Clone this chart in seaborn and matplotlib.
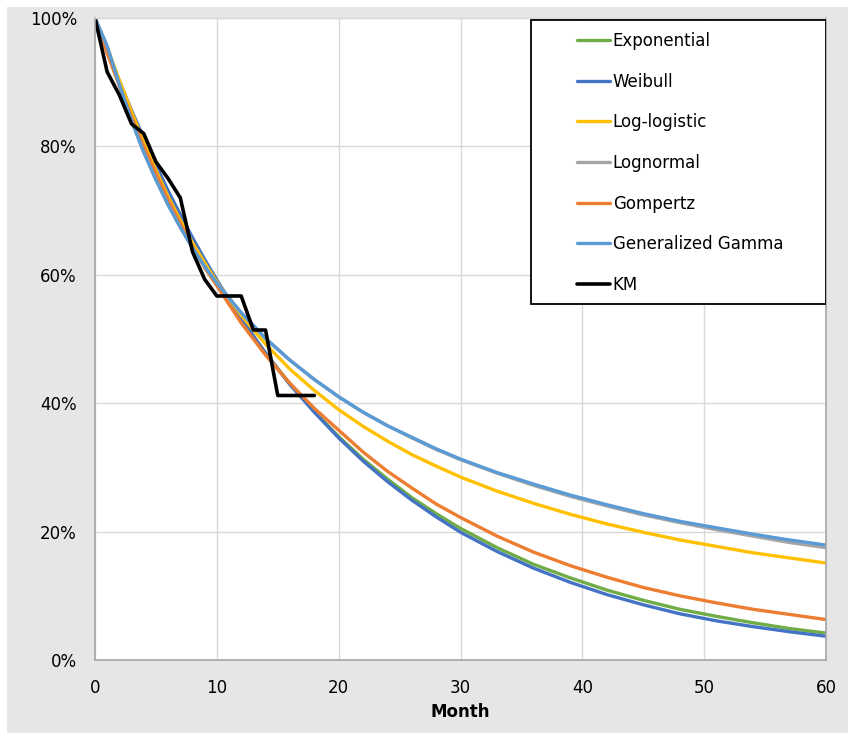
import pandas as pd
import matplotlib
matplotlib.use("Agg")
import matplotlib.pyplot as plt
from matplotlib.patches import Rectangle
from matplotlib.lines import Line2D
from matplotlib.ticker import PercentFormatter, MultipleLocator
import seaborn as sns

# Month grid for the fitted parametric survival curves
months = [0, 1, 2, 3, 4, 5, 6, 7, 8, 9, 10, 12, 14, 16, 18, 20, 22, 24, 26, 28, 30,
          33, 36, 39, 42, 45, 48, 51, 54, 57, 60]

# Survival probability (%) of each fitted model
exponential = [100, 94.9, 90.0, 85.4, 81.0, 76.8, 72.9, 69.1, 65.6, 62.2, 59.0, 53.1, 47.8, 43.0,
               38.7, 34.8, 31.3, 28.2, 25.3, 22.8, 20.5, 17.5, 14.9, 12.8, 10.9, 9.3, 7.9,
               6.8, 5.8, 4.9, 4.2]
weibull = [100, 95.0, 90.2, 85.6, 81.3, 77.1, 73.1, 69.4, 65.8, 62.4, 59.2, 53.2, 47.8, 42.9,
           38.6, 34.6, 31.0, 27.8, 24.9, 22.3, 19.9, 16.9, 14.3, 12.1, 10.2, 8.6, 7.2,
           6.1, 5.2, 4.4, 3.7]
log_logistic = [100, 95.4, 90.3, 85.4, 80.7, 76.3, 72.2, 68.5, 65.0, 61.9, 58.9, 53.7, 49.2, 45.3,
                42.0, 39.0, 36.4, 34.1, 32.0, 30.2, 28.5, 26.3, 24.4, 22.7, 21.2, 19.9, 18.7,
                17.7, 16.7, 15.9, 15.1]
lognormal = [100, 95.6, 89.6, 84.0, 79.1, 74.8, 70.9, 67.4, 64.2, 61.3, 58.7, 54.1, 50.1, 46.7,
             43.7, 41.0, 38.6, 36.5, 34.6, 32.8, 31.2, 29.1, 27.2, 25.5, 24.0, 22.6, 21.4,
             20.3, 19.3, 18.3, 17.5]
gompertz = [100, 94.5, 89.4, 84.6, 80.0, 75.8, 71.7, 68.0, 64.4, 61.1, 58.3, 52.5, 47.5, 43.1,
            39.2, 35.8, 32.4, 29.4, 26.8, 24.3, 22.2, 19.3, 16.8, 14.7, 12.9, 11.3, 10.0,
            8.9, 7.9, 7.1, 6.3]
gen_gamma = [100, 95.6, 89.6, 84.0, 79.1, 74.8, 70.9, 67.4, 64.2, 61.3, 58.7, 54.1, 50.1, 46.7,
             43.7, 41.0, 38.6, 36.5, 34.7, 32.9, 31.3, 29.2, 27.4, 25.7, 24.2, 22.8, 21.6,
             20.6, 19.6, 18.7, 17.9]

# Kaplan-Meier estimate (%)
km_months = [0, 1, 2, 3, 4, 5, 6, 7, 8, 9, 10, 12, 13, 14, 15, 18]
km_surv = [100, 91.6, 88.0, 83.5, 82.0, 77.6, 75.0, 72.0, 63.6, 59.3, 56.7, 56.7, 51.4, 51.4, 41.2, 41.2]

model_names = ["Exponential", "Weibull", "Log-logistic", "Lognormal", "Gompertz", "Generalized Gamma"]
model_values = [exponential, weibull, log_logistic, lognormal, gompertz, gen_gamma]
model_colors = ["#70AD47", "#4472C4", "#FFC000", "#A5A5A5", "#ED7D31", "#5B9BD5"]

x_ticks = [0, 10, 20, 30, 40, 50, 60]

frames = [pd.DataFrame({"Month": months, "Survival": vals, "Model": name})
          for name, vals in zip(model_names, model_values)]
models_df = pd.concat(frames, ignore_index=True)
km_df = pd.DataFrame({"Month": km_months, "Survival": km_surv})

sns.set_theme(style="whitegrid")
plt.rcParams["font.family"] = ["DejaVu Sans"]
plt.rcParams["text.color"] = "black"

W, H = 848, 734
fig = plt.figure(figsize=(W / 100, H / 100), dpi=100, facecolor="white")
# grey chart area
fig.patches.append(Rectangle((7 / W, 1 / H), (W - 7) / W, (H - 8) / H,
                             transform=fig.transFigure, facecolor="#E6E6E6",
                             edgecolor="none", zorder=-10))

ax = fig.add_axes([95 / W, 1 - 660 / H, (826 - 95) / W, (660 - 18) / H])
ax.set_facecolor("white")

sns.lineplot(data=models_df, x="Month", y="Survival", hue="Model", hue_order=model_names,
             palette=model_colors, linewidth=2.4, ax=ax, legend=False, sort=False)
sns.lineplot(data=km_df, x="Month", y="Survival", color="black", linewidth=2.6,
             ax=ax, legend=False, sort=False)

ax.set_xlim(0, 60)
ax.set_ylim(0, 100)
ax.set_xticks(x_ticks)
ax.yaxis.set_major_locator(MultipleLocator(20))
ax.yaxis.set_major_formatter(PercentFormatter(xmax=100, decimals=0))
ax.grid(True, color="#D9D9D9", linewidth=1.0)
ax.tick_params(axis="both", length=0, labelsize=12, colors="black", labelcolor="black")
ax.tick_params(axis="y", pad=13)
ax.tick_params(axis="x", pad=14)
ax.set_xlabel("Month", fontsize=12, fontweight="bold", labelpad=4, color="black")
ax.set_ylabel("")

for side in ["left", "bottom", "right"]:
    ax.spines[side].set_visible(True)
    ax.spines[side].set_color("#A6A6A6")
    ax.spines[side].set_linewidth(1.2)
ax.spines["top"].set_color("#D9D9D9")
ax.spines["top"].set_linewidth(1.0)

# legend box
x0 = (531 - 95) / 731
y0 = (660 - 304) / 642
y1 = (660 - 20) / 642
ax.add_patch(Rectangle((x0, y0), 1 - x0, y1 - y0, transform=ax.transAxes,
                       facecolor="white", edgecolor="black", linewidth=1.3, zorder=5))

handles = [Line2D([], [], color=c, linewidth=2.4) for c in model_colors]
handles.append(Line2D([], [], color="black", linewidth=2.6))
labels = model_names + ["KM"]
leg = ax.legend(handles, labels, loc="upper left",
                bbox_to_anchor=((577 - 95) / 731, (660 - 32) / 642),
                frameon=False, fontsize=12, borderpad=0, borderaxespad=0,
                handlelength=2.0, handletextpad=0.15, labelspacing=1.36,
                labelcolor="black")
leg.set_zorder(6)

fig.savefig("out.png", dpi=100, facecolor="white")
